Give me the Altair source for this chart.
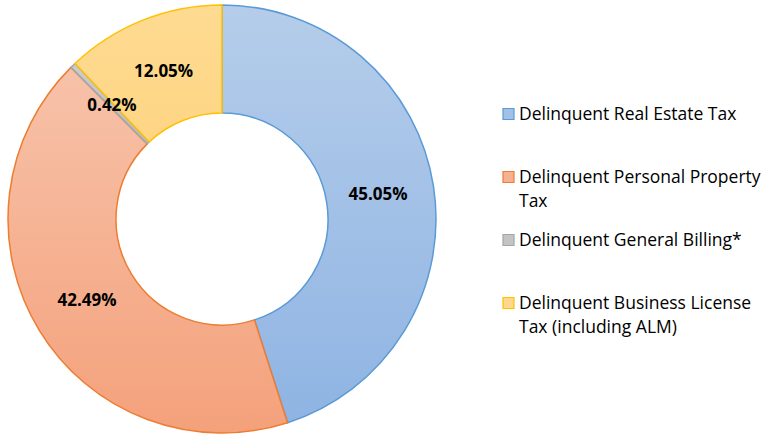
import altair as alt
import pandas as pd

categories = [
    "Delinquent Real Estate Tax",
    "Delinquent Personal Property Tax",
    "Delinquent General Billing*",
    "Delinquent Business License Tax (including ALM)",
]
shares = [45.05, 42.49, 0.42, 12.05]
slice_labels = ["45.05%", "42.49%", "0.42%", "12.05%"]
legend_labels = [
    "Delinquent Real Estate Tax",
    "Delinquent Personal Property\nTax",
    "Delinquent General Billing*",
    "Delinquent Business License\nTax (including ALM)",
]

grad_top = ["#b5cdea", "#f7c2a9", "#cccccc", "#fedb92"]
grad_bottom = ["#8fb4e3", "#f4a17b", "#bcbcbc", "#fed584"]
legend_fill = ["#a3c0e6", "#f5b191", "#c4c4c4", "#fed88c"]
strokes = ["#5b9bd5", "#ed7d31", "#a5a5a5", "#ffc000"]

df = pd.DataFrame({
    "category": categories,
    "share": shares,
    "label": slice_labels,
    "legend": legend_labels,
})

CX, CY = 222, 219
R_OUT, R_IN = 214, 106

base = (
    alt.Chart(df)
    .transform_joinaggregate(total="sum(share)")
    .transform_window(cum="sum(share)", frame=[None, 0])
    .transform_calculate(
        t0="(datum.cum - datum.share) / datum.total * 2 * PI",
        t1="datum.cum / datum.total * 2 * PI",
        tm="(datum.cum - datum.share / 2) / datum.total * 2 * PI",
    )
)

layers = []
for i, cat in enumerate(categories):
    grad = alt.Gradient(
        gradient="linear",
        x1=0, y1=0, x2=0, y2=1,
        stops=[
            alt.GradientStop(color=grad_top[i], offset=0),
            alt.GradientStop(color=grad_bottom[i], offset=1),
        ],
    )
    layers.append(
        base.transform_filter(alt.datum.category == cat)
        .mark_arc(radius=R_OUT, radius2=R_IN, fill=grad, stroke=strokes[i], strokeWidth=1.5)
        .encode(
            theta=alt.Theta("t0:Q", scale=None),
            theta2="t1:Q",
            x=alt.value(CX),
            y=alt.value(CY),
        )
    )

labels = base.mark_text(
    font="Open Sans", fontWeight="bold", fontSize=17, color="black",
    radius=(R_OUT + R_IN) / 2 - 2,
).encode(
    theta=alt.Theta("tm:Q", scale=None),
    text="label:N",
    x=alt.value(CX),
    y=alt.value(CY),
)

ypos = alt.Y(
    "category:N",
    scale=alt.Scale(type="point", domain=categories, range=[114, 303], padding=0),
    axis=None,
)

leg_sq = alt.Chart(df).mark_square(size=121, strokeWidth=1.2, opacity=1).encode(
    x=alt.value(508.5),
    y=ypos,
    fill=alt.Fill("category:N", scale=alt.Scale(domain=categories, range=legend_fill), legend=None),
    stroke=alt.Stroke("category:N", scale=alt.Scale(domain=categories, range=strokes), legend=None),
)

leg_txt = alt.Chart(df).mark_text(
    align="left", baseline="top", dy=-8, font="Open Sans", fontSize=17.5,
    lineBreak="\n", lineHeight=24, color="black",
).encode(
    x=alt.value(519),
    y=ypos,
    text="legend:N",
)

chart = (
    alt.layer(*layers, labels, leg_sq, leg_txt)
    .properties(width=769, height=436, padding=0, autosize="none")
    .configure_view(stroke=None)
)

chart.save("out.html", embed_options={"renderer": "svg", "actions": False})
